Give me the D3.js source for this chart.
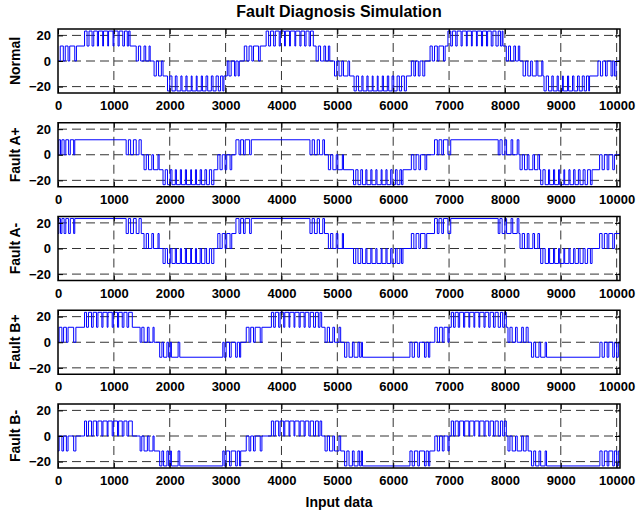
<!DOCTYPE html>
<html>
<head>
<meta charset="utf-8">
<script src="https://cdn.jsdelivr.net/npm/d3@7"></script>
<style>
  body { margin: 0; background: #fff; }
  text { font-family: "Liberation Sans", Arial, sans-serif; font-weight: bold; fill: #000; }
</style>
</head>
<body>
<div id="chart"></div>
<script>
// chart size
var svgWidth = 637;
var svgHeight = 516;

// one voltage step of the multilevel output
var levelStep = 11.7;

var panelNames = ["Normal", "Fault A+", "Fault A-", "Fault B+", "Fault B-"];
var xTicks = [0, 1000, 2000, 3000, 4000, 5000, 6000, 7000, 8000, 9000, 10000];
var yTicks = [-20, 0, 20];

// step signals: [sample, level] - the level holds until the next point
var normalSteps = [
  [0,0],[40,1],[95,0],[130,1],[180,0],[210,1],[300,0],[330,1],
  [475,2],[520,1],[555,2],[610,1],[640,2],[705,1],[725,2],[800,1],[815,2],[890,1],[905,2],[985,1],[1000,2],[1075,1],[1095,2],[1160,1],[1190,2],[1240,1],[1265,2],[1290,1],
  [1400,0],[1440,1],[1480,0],[1540,1],[1570,0],[1630,1],[1650,0],
  [1720,-1],[1760,0],[1800,-1],[1850,0],[1880,-1],
  [1960,-2],[2000,-1],[2040,-2],[2100,-1],[2130,-2],[2200,-1],[2220,-2],[2290,-1],[2310,-2],[2385,-1],[2400,-2],[2475,-1],[2490,-2],[2565,-1],[2585,-2],[2650,-1],[2680,-2],[2745,-1],[2775,-2],[2830,-1],[2870,-2],[2910,-1],[2950,-2],[2970,-1],
  [3030,0],[3060,-1],[3100,0],[3160,-1],[3185,0],[3225,-1],[3245,0],
  [3335,1],[3380,0],[3420,1],[3470,0],[3500,1],[3590,0],[3620,1],
  [3726,2],[3770,1],[3805,2],[3860,1],[3890,2],[3960,1],[3980,2],[4055,1],[4070,2],[4145,1],[4160,2],[4240,1],[4255,2],[4330,1],[4350,2],[4415,1],[4440,2],[4495,1],[4520,2],[4570,1],
  [4620,0],[4660,1],[4700,0],[4760,1],[4790,0],[4840,1],[4865,0],
  [4950,-1],[4990,0],[5030,-1],[5080,0],[5110,-1],[5190,0],[5220,-1],
  [5300,-2],[5340,-1],[5380,-2],[5440,-1],[5460,-2],[5530,-1],[5550,-2],[5625,-1],[5640,-2],[5715,-1],[5730,-2],[5805,-1],[5825,-2],[5895,-1],[5920,-2],[5980,-1],[6010,-2],[6070,-1],[6110,-2],[6150,-1],[6200,-2],[6236,-1],
  [6325,0],[6370,-1],[6400,0],[6450,-1],[6480,0],[6530,-1],[6565,0],
  [6660,1],[6700,0],[6740,1],[6790,0],[6820,1],[6900,0],[6930,1],
  [6980,2],[7030,1],[7060,2],[7120,1],[7145,2],[7215,1],[7235,2],[7310,1],[7325,2],[7400,1],[7415,2],[7490,1],[7505,2],[7580,1],[7600,2],[7670,1],[7690,2],[7755,1],[7785,2],[7840,1],[7880,2],[7920,1],[7950,2],[7965,1],
  [8025,0],[8065,1],[8100,0],[8160,1],[8190,0],[8240,1],[8265,0],
  [8325,-1],[8370,0],[8410,-1],[8460,0],[8490,-1],[8560,0],[8590,-1],[8660,0],[8680,-1],
  [8700,-2],[8740,-1],[8780,-2],[8840,-1],[8865,-2],[8935,-1],[8955,-2],[9030,-1],[9045,-2],[9120,-1],[9140,-2],[9210,-1],[9235,-2],[9300,-1],[9330,-2],[9385,-1],[9420,-2],[9460,-1],[9500,-2],[9515,-1],
  [9665,0],[9710,-1],[9750,0],[9800,-1],[9830,0],[9900,-1],[9930,0],[9960,-1],[9990,0]
];

var faultAPlusSteps = [
  [0,0],[15,1],[45,0],[70,1],[110,0],[140,1],[190,0],[220,1],[280,0],[300,1],
  [1220,0],[1260,1],[1300,0],[1350,1],[1400,0],[1450,1],[1490,0],
  [1540,-1],[1580,0],[1620,-1],[1680,0],[1710,-1],[1790,0],[1810,-1],
  [1880,-2],[1920,-1],[1960,-2],[2010,-1],[2040,-2],[2100,-1],[2120,-2],[2190,-1],[2210,-2],[2280,-1],[2300,-2],[2375,-1],[2390,-2],[2460,-1],[2480,-2],[2545,-1],[2570,-2],[2630,-1],[2660,-2],[2710,-1],[2750,-2],[2790,-1],
  [2860,0],[2900,-1],[2940,0],[2990,-1],[3020,0],[3080,-1],[3110,0],
  [3185,1],[3240,0],[3270,1],[3320,0],[3350,1],[3430,0],[3460,1],
  [4510,0],[4550,1],[4590,0],[4640,1],[4680,0],[4740,1],[4770,0],
  [4840,-1],[4880,0],[4920,-1],[4980,0],[5010,-1],[5090,0],[5110,-1],
  [5290,-2],[5330,-1],[5370,-2],[5420,-1],[5450,-2],[5510,-1],[5530,-2],[5600,-1],[5620,-2],[5690,-1],[5710,-2],[5785,-1],[5800,-2],[5870,-1],[5890,-2],[5955,-1],[5980,-2],[6040,-1],[6070,-2],[6120,-1],[6150,-2],[6175,-1],
  [6325,0],[6370,-1],[6410,0],[6460,-1],[6490,0],[6570,-1],[6600,0],
  [6740,1],[6790,0],[6820,1],[6870,0],[6900,1],[6980,0],[7030,1],
  [7880,0],[7910,1],[7950,0],[8000,1],[8030,0],[8110,1],[8140,0],[8220,1],[8250,0],
  [8270,-1],[8310,0],[8350,-1],[8400,0],[8430,-1],[8500,0],[8530,-1],[8590,0],[8620,-1],
  [8640,-2],[8680,-1],[8720,-2],[8780,-1],[8800,-2],[8870,-1],[8890,-2],[8960,-1],[8980,-2],[9055,-1],[9070,-2],[9145,-1],[9165,-2],[9230,-1],[9255,-2],[9315,-1],[9345,-2],[9400,-1],[9435,-2],[9480,-1],[9530,-2],[9560,-1],
  [9695,0],[9740,-1],[9780,0],[9830,-1],[9860,0],[9930,-1],[9960,0]
];

var faultAMinusSteps = [
  [0,1],[15,2],[45,1],[70,2],[110,1],[140,2],[190,1],[220,2],[280,1],[300,2],
  [1220,1],[1260,2],[1300,1],[1350,2],[1400,1],[1450,2],[1490,1],
  [1540,0],[1580,1],[1620,0],[1680,1],[1710,0],[1790,1],[1810,0],
  [1880,-1],[1920,0],[1960,-1],[2010,0],[2040,-1],[2100,0],[2120,-1],[2190,0],[2210,-1],[2280,0],[2300,-1],[2375,0],[2390,-1],[2460,0],[2480,-1],[2545,0],[2570,-1],[2630,0],[2660,-1],[2710,0],[2750,-1],[2790,0],
  [2860,1],[2900,0],[2940,1],[2990,0],[3020,1],[3080,0],[3110,1],
  [3185,2],[3240,1],[3270,2],[3320,1],[3350,2],[3430,1],[3460,2],
  [4510,1],[4550,2],[4590,1],[4640,2],[4680,1],[4740,2],[4770,1],
  [4840,0],[4880,1],[4920,0],[4980,1],[5010,0],[5090,1],[5110,0],
  [5290,-1],[5330,0],[5370,-1],[5420,0],[5450,-1],[5510,0],[5530,-1],[5600,0],[5620,-1],[5690,0],[5710,-1],[5785,0],[5800,-1],[5870,0],[5890,-1],[5955,0],[5980,-1],[6040,0],[6070,-1],[6120,0],[6150,-1],[6175,0],
  [6325,1],[6370,0],[6410,1],[6460,0],[6490,1],[6570,0],[6600,1],
  [6740,2],[6790,1],[6820,2],[6870,1],[6900,2],[6980,1],[7030,2],
  [7880,1],[7910,2],[7950,1],[8000,2],[8030,1],[8110,2],[8140,1],[8220,2],[8250,1],
  [8270,0],[8310,1],[8350,0],[8400,1],[8430,0],[8500,1],[8530,0],[8590,1],[8620,0],
  [8640,-1],[8680,0],[8720,-1],[8780,0],[8800,-1],[8870,0],[8890,-1],[8960,0],[8980,-1],[9055,0],[9070,-1],[9145,0],[9165,-1],[9230,0],[9255,-1],[9315,0],[9345,-1],[9400,0],[9435,-1],[9480,0],[9530,-1],[9560,0],
  [9695,1],[9740,0],[9780,1],[9830,0],[9860,1],[9930,0],[9960,1]
];

var faultBPlusSteps = [
  [0,0],[20,1],[70,0],[100,1],[150,0],[180,1],[280,0],[320,1],
  [475,2],[510,1],[545,2],[600,1],[630,2],[690,1],[715,2],[785,1],[805,2],[880,1],[895,2],[970,1],[990,2],[1065,1],[1085,2],[1150,1],[1180,2],[1235,1],[1265,2],[1330,1],
  [1470,0],[1500,1],[1540,0],[1600,1],[1630,0],[1700,1],[1720,0],
  [1820,-1],[1860,0],[1890,-1],[1950,0],[1980,-1],[2010,0],[2030,-1],[2150,0],[2180,-1],
  [2950,0],[2975,-1],[3010,0],[3070,-1],[3100,0],[3180,-1],[3210,0],[3250,-1],[3270,0],
  [3370,1],[3420,0],[3450,1],[3500,0],[3530,1],[3620,0],[3650,1],
  [3820,2],[3860,1],[3890,2],[3950,1],[3975,2],[4040,1],[4060,2],[4135,1],[4150,2],[4225,1],[4240,2],[4315,1],[4335,2],[4405,1],[4425,2],[4490,1],[4515,2],[4575,1],[4610,2],[4660,1],[4690,2],[4720,1],
  [4780,0],[4820,1],[4860,0],[4920,1],[4950,0],[5030,1],[5060,0],
  [5130,-1],[5170,0],[5210,-1],[5270,0],[5300,-1],[5370,0],[5400,-1],[5430,0],[5450,-1],
  [6300,0],[6340,-1],[6380,0],[6440,-1],[6470,0],[6560,-1],[6590,0],[6630,-1],[6655,0],
  [6745,1],[6790,0],[6830,1],[6880,0],[6910,1],[6980,0],[7000,1],
  [7040,2],[7080,1],[7110,2],[7165,1],[7190,2],[7260,1],[7280,2],[7355,1],[7370,2],[7445,1],[7460,2],[7535,1],[7550,2],[7625,1],[7645,2],[7710,1],[7735,2],[7795,1],[7825,2],[7880,1],[7920,2],[7960,1],[7990,2],[8025,1],
  [8055,0],[8090,1],[8130,0],[8190,1],[8220,0],[8300,1],[8330,0],[8380,1],[8415,0],
  [8475,-1],[8515,0],[8550,-1],[8610,0],[8640,-1],[8720,0],[8745,-1],
  [9700,0],[9740,-1],[9780,0],[9830,-1],[9860,0],[9930,-1],[9960,0],[10000,-1],[10030,0]
];

var faultBMinusSteps = [
  [0,-1],[20,0],[70,-1],[100,0],[150,-1],[180,0],[280,-1],[320,0],
  [475,1],[510,0],[545,1],[600,0],[630,1],[690,0],[715,1],[785,0],[805,1],[880,0],[895,1],[970,0],[990,1],[1065,0],[1085,1],[1150,0],[1180,1],[1235,0],[1265,1],[1330,0],
  [1470,-1],[1500,0],[1540,-1],[1600,0],[1630,-1],[1700,0],[1720,-1],
  [1820,-2],[1860,-1],[1890,-2],[1950,-1],[1980,-2],[2010,-1],[2030,-2],[2150,-1],[2180,-2],
  [2950,-1],[2975,-2],[3010,-1],[3070,-2],[3100,-1],[3180,-2],[3210,-1],[3250,-2],[3270,-1],
  [3370,0],[3420,-1],[3450,0],[3500,-1],[3530,0],[3620,-1],[3650,0],
  [3820,1],[3860,0],[3890,1],[3950,0],[3975,1],[4040,0],[4060,1],[4135,0],[4150,1],[4225,0],[4240,1],[4315,0],[4335,1],[4405,0],[4425,1],[4490,0],[4515,1],[4575,0],[4610,1],[4660,0],[4690,1],[4720,0],
  [4780,-1],[4820,0],[4860,-1],[4920,0],[4950,-1],[5030,0],[5060,-1],
  [5130,-2],[5170,-1],[5210,-2],[5270,-1],[5300,-2],[5370,-1],[5400,-2],[5430,-1],[5450,-2],
  [6300,-1],[6340,-2],[6380,-1],[6440,-2],[6470,-1],[6560,-2],[6590,-1],[6630,-2],[6655,-1],
  [6745,0],[6790,-1],[6830,0],[6880,-1],[6910,0],[6980,-1],[7000,0],
  [7040,1],[7080,0],[7110,1],[7165,0],[7190,1],[7260,0],[7280,1],[7355,0],[7370,1],[7445,0],[7460,1],[7535,0],[7550,1],[7625,0],[7645,1],[7710,0],[7735,1],[7795,0],[7825,1],[7880,0],[7920,1],[7960,0],[7990,1],[8025,0],
  [8055,-1],[8090,0],[8130,-1],[8190,0],[8220,-1],[8300,0],[8330,-1],[8380,0],[8415,-1],
  [8475,-2],[8515,-1],[8550,-2],[8610,-1],[8640,-2],[8720,-1],[8745,-2],
  [9700,-1],[9740,-2],[9780,-1],[9830,-2],[9860,-1],[9930,-2],[9960,-1],[10000,-2],[10030,-1]
];

var allSteps = [normalSteps, faultAPlusSteps, faultAMinusSteps, faultBPlusSteps, faultBMinusSteps];

var margin = { left: 58, top: 29 };
var width = 562;
var height = 64;
var panelGap = 93.75;
var xMax = 10060;

var svg = d3.select("#chart")
    .append("svg")
    .attr("width", svgWidth)
    .attr("height", svgHeight);

var xScale = d3.scaleLinear().domain([0, xMax]).range([0, width]);
var yScale = d3.scaleLinear().domain([-25, 25]).range([height, 0]);

svg.append("defs").append("clipPath")
    .attr("id", "plotClip")
    .append("rect")
    .attr("width", width)
    .attr("height", height);

var line = d3.line()
    .x(d => xScale(d[0]))
    .y(d => yScale(d[1] * levelStep))
    .curve(d3.curveStepAfter);

allSteps.forEach(function (steps, i) {
    var g = svg.append("g")
        .attr("transform", `translate(${margin.left}, ${margin.top + i * panelGap})`);

    // dashed grid
    g.append("g").selectAll("line")
        .data(xTicks.slice(1))
        .enter()
        .append("line")
        .attr("x1", d => xScale(d))
        .attr("x2", d => xScale(d))
        .attr("y1", 0)
        .attr("y2", height)
        .attr("stroke", "#333")
        .attr("stroke-dasharray", "9,5");

    g.append("g").selectAll("line")
        .data(yTicks)
        .enter()
        .append("line")
        .attr("x1", 0)
        .attr("x2", width)
        .attr("y1", d => yScale(d))
        .attr("y2", d => yScale(d))
        .attr("stroke", "#333")
        .attr("stroke-dasharray", "9,5");

    // signal
    var pts = steps.concat([[xMax, steps[steps.length - 1][1]]]);
    g.append("path")
        .datum(pts)
        .attr("clip-path", "url(#plotClip)")
        .attr("fill", "none")
        .attr("stroke", "#0000ff")
        .attr("stroke-width", 1)
        .attr("d", line);

    // axes with inward ticks
    var bottom = g.append("g")
        .attr("transform", `translate(0, ${height})`)
        .call(d3.axisBottom(xScale).tickValues(xTicks).tickFormat(d3.format("d"))
            .tickSizeInner(-5).tickSizeOuter(0).tickPadding(8));
    var left = g.append("g")
        .call(d3.axisLeft(yScale).tickValues(yTicks).tickFormat(d3.format("d"))
            .tickSizeInner(-5).tickSizeOuter(0).tickPadding(7));
    var top = g.append("g")
        .call(d3.axisTop(xScale).tickValues(xTicks).tickSizeInner(-5).tickSizeOuter(0).tickFormat(""));
    var right = g.append("g")
        .attr("transform", `translate(${width}, 0)`)
        .call(d3.axisRight(yScale).tickValues(yTicks).tickSizeInner(-5).tickSizeOuter(0).tickFormat(""));

    [bottom, left, top, right].forEach(function (a) {
        a.select(".domain").remove();
        a.selectAll("line").attr("stroke", "#000");
        a.selectAll("text")
            .style("font-size", "13px")
            .style("font-weight", "bold")
            .attr("fill", "#000");
    });

    g.append("rect")
        .attr("width", width)
        .attr("height", height)
        .attr("fill", "none")
        .attr("stroke", "#000")
        .attr("stroke-width", 1.5);

    // panel label
    g.append("text")
        .attr("transform", `translate(-38, ${height / 2}) rotate(-90)`)
        .attr("text-anchor", "middle")
        .style("font-size", "14px")
        .text(panelNames[i]);
});

svg.append("text")
    .attr("x", margin.left + width / 2)
    .attr("y", 17)
    .attr("text-anchor", "middle")
    .style("font-size", "16px")
    .text("Fault Diagnosis Simulation");

svg.append("text")
    .attr("x", margin.left + width / 2)
    .attr("y", 507)
    .attr("text-anchor", "middle")
    .style("font-size", "14px")
    .text("Input data");
</script>
</body>
</html>
